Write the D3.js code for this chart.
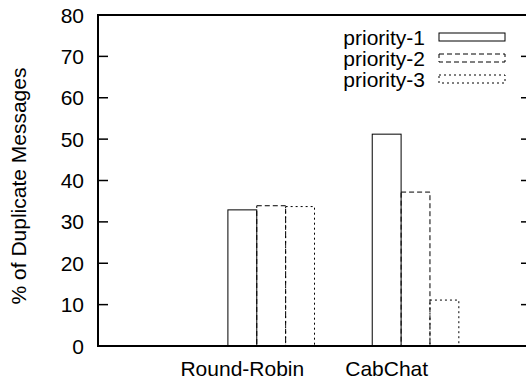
<!DOCTYPE html>
<html>
<head>
<meta charset="utf-8">
<script src="https://cdn.jsdelivr.net/npm/d3@7"></script>
<style>
  body { margin: 0; background: #fff; }
  svg { display: block; }
  text { font-family: "Liberation Sans", Arial, sans-serif; font-size: 21px; fill: #000; }
</style>
</head>
<body>
<svg class="chart" width="526" height="380"></svg>
<script>
var categories = ["Round-Robin", "CabChat"];
var series = ["priority-1", "priority-2", "priority-3"];
var priority1 = [32.9, 51.2];
var priority2 = [33.9, 37.2];
var priority3 = [33.7, 11.1];
var yTicks = [0, 10, 20, 30, 40, 50, 60, 70, 80];

var values = [priority1, priority2, priority3];
var dashes = ["none", "5,3", "2,3"];

var m = { left: 98, right: -5, top: 15, bottom: 34 },
  W = 526, H = 380,
  w = W - m.left - m.right,
  h = H - m.top - m.bottom;

var svg = d3.select(".chart");
var g = svg.append("g").attr("transform", "translate(" + m.left + "," + m.top + ")");

// x positions: category i sits at i, an empty slot at -1
var x = d3.scaleLinear().domain([-1, 2]).range([0, w]);
var y = d3.scaleLinear().domain([0, 80]).range([h, 0]);
var bw = 0.2;

// bars
series.forEach(function(s, j) {
  g.selectAll(".bar" + j)
    .data(values[j])
    .enter().append("rect")
    .attr("class", "bar" + j)
    .attr("x", function(d, i) { return x(i + j * bw - bw / 2); })
    .attr("width", x(bw) - x(0))
    .attr("y", function(d) { return y(d); })
    .attr("height", function(d) { return h - y(d); })
    .attr("fill", "none")
    .attr("stroke", "#000")
    .attr("stroke-width", 1)
    .attr("stroke-dasharray", dashes[j]);
});

// left axis ticks (inward) and labels
var axisL = g.append("g");
axisL.selectAll("line").data(yTicks).enter().append("line")
  .attr("x1", 0).attr("x2", 10)
  .attr("y1", function(d) { return y(d); }).attr("y2", function(d) { return y(d); })
  .attr("stroke", "#000").attr("stroke-width", 1.5);
axisL.selectAll("text").data(yTicks).enter().append("text")
  .attr("x", -14).attr("y", function(d) { return y(d); })
  .attr("dy", "0.36em")
  .attr("text-anchor", "end")
  .text(String);

// right mirror ticks
g.append("g").selectAll("line").data(yTicks).enter().append("line")
  .attr("x1", w - 10).attr("x2", w)
  .attr("y1", function(d) { return y(d); }).attr("y2", function(d) { return y(d); })
  .attr("stroke", "#000").attr("stroke-width", 1.5);

// frame
g.append("rect")
  .attr("x", 0).attr("y", 0).attr("width", w).attr("height", h)
  .attr("fill", "none").attr("stroke", "#000").attr("stroke-width", 2);

// category labels under first bar of each cluster
g.append("g").selectAll("text").data(categories).enter().append("text")
  .attr("x", function(d, i) { return x(i); })
  .attr("y", h + 30)
  .attr("text-anchor", "middle")
  .text(String);

// y title
svg.append("text")
  .attr("transform", "translate(26," + 186 + ") rotate(-90)")
  .attr("text-anchor", "middle")
  .text("% of Duplicate Messages");

// legend
var leg = svg.append("g").selectAll("g").data(series).enter().append("g")
  .attr("transform", function(d, j) { return "translate(0," + (37 + j * 21) + ")"; });
leg.append("text")
  .attr("x", 425).attr("dy", "0.36em")
  .attr("text-anchor", "end")
  .text(String);
leg.append("rect")
  .attr("x", 439).attr("y", -4).attr("width", 66).attr("height", 8)
  .attr("fill", "none").attr("stroke", "#000").attr("stroke-width", 1)
  .attr("stroke-dasharray", function(d, j) { return dashes[j]; });
</script>
</body>
</html>
